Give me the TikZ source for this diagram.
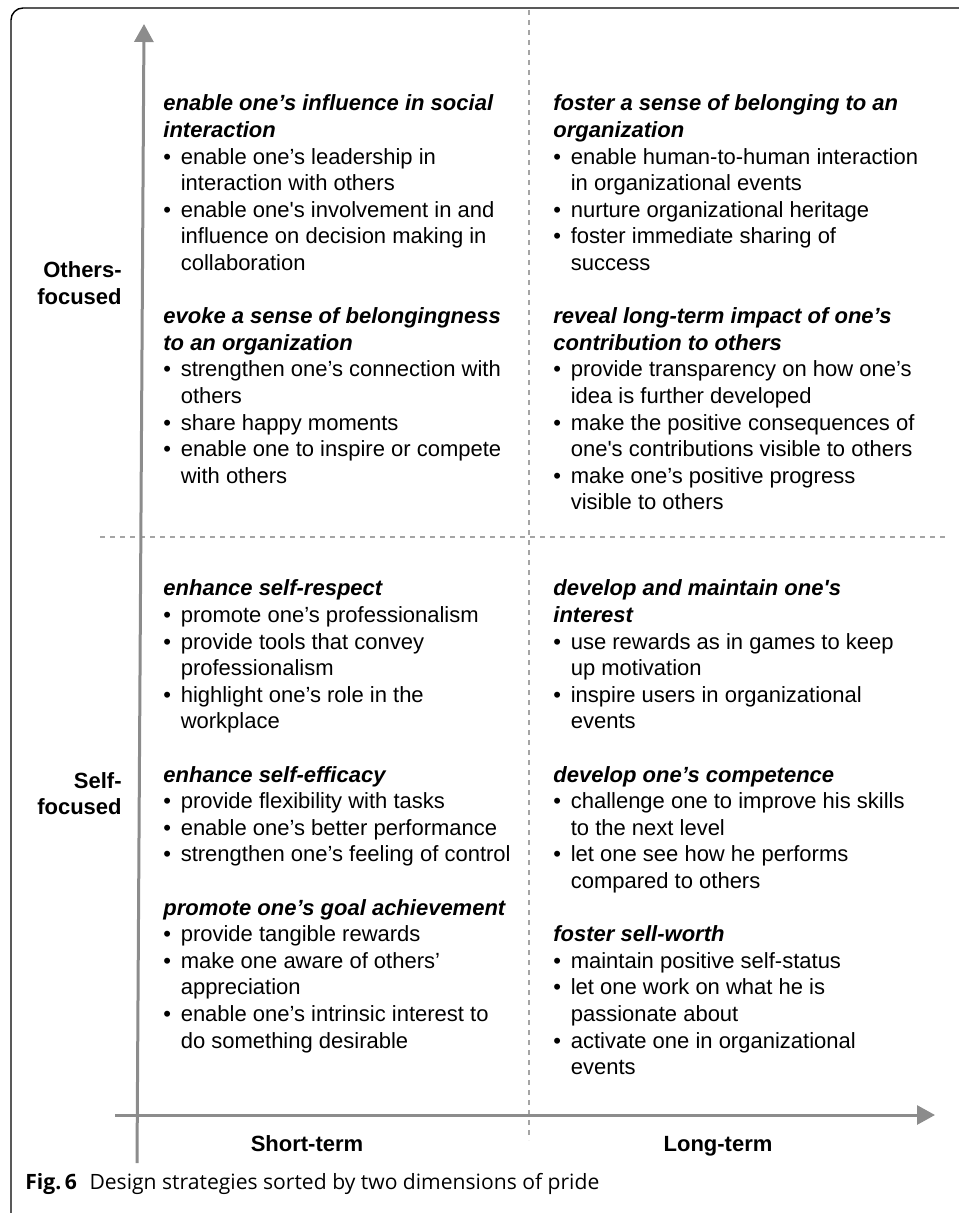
\documentclass[tikz,border=0pt]{standalone}
\usepackage{fontspec}
\setmainfont{Liberation Sans}
\newfontfamily\capfont{Open Sans}
\usetikzlibrary{arrows.meta}
\definecolor{axisgray}{RGB}{140,140,140}
\definecolor{dashgray}{RGB}{165,165,165}
\newlength\bw \setlength\bw{8.7pt}
\newcommand\myhd[1]{\par\noindent{\bfseries\itshape #1\par}}
\newcommand\mybul[1]{\par\noindent\hangindent=\bw\hangafter=1\makebox[\bw][l]{•}#1\par}
\newcommand\mygap{\vspace{13.3pt}}
\newcommand\myblock[1]{\parbox[t]{205pt}{\fontsize{11}{13.3}\selectfont\setlength\parindent{0pt}\setlength\parskip{0pt}#1}}
\begin{document}
\begin{tikzpicture}[x=0.5pt,y=-0.5pt,
  axisline/.style={draw=axisgray, line width=1.5pt, -{Triangle[length=9pt,width=9.5pt]}},
  dashline/.style={draw=dashgray, line width=0.7pt, dash pattern=on 2.6pt off 2.4pt},
  quad/.style={anchor=base west, inner sep=0pt},
  sidelabel/.style={anchor=base east, inner sep=0pt},
  axislabel/.style={anchor=base, inner sep=0pt, font=\bfseries\fontsize{11}{13.3}\selectfont}]
\useasboundingbox (0,0) rectangle (958,1213);
% frame
\draw[black, line width=0.7pt, rounded corners=6pt] (11,8) rectangle (1000,1225);
% coordinates
\coordinate (vbot) at (137,1163);
\coordinate (vtop) at (144,24);
\coordinate (hleft) at (115,1115);
\coordinate (hright) at (935,1115);
\coordinate (dvtop) at (529,10);
\coordinate (dvbot) at (529,1140);
\coordinate (dhl) at (100,537);
\coordinate (dhr) at (945,537);
% dashed dividers
\draw[dashline] (dvtop) -- (dvbot);
\draw[dashline] (dhl) -- (dhr);
% axes
\draw[axisline] (vbot) -- (vtop);
\draw[axisline] (hleft) -- (hright);
% quadrant texts
\node[quad] (tl) at (163,111) {\myblock{%
\myhd{enable one’s influence in social\\interaction}
\mybul{enable one’s leadership in\\interaction with others}
\mybul{enable one\textquotesingle s involvement in and\\influence on decision making in\\collaboration}
\mygap
\myhd{evoke a sense of belongingness\\to an organization}
\mybul{strengthen one’s connection with\\others}
\mybul{share happy moments}
\mybul{enable one to inspire or compete\\with others}}};
\node[quad] (tr) at (553,111) {\myblock{%
\myhd{foster a sense of belonging to an\\organization}
\mybul{enable human-to-human interaction\\in organizational events}
\mybul{nurture organizational heritage}
\mybul{foster immediate sharing of\\success}
\mygap
\myhd{reveal long-term impact of one’s\\contribution to others}
\mybul{provide transparency on how one’s\\idea is further developed}
\mybul{make the positive consequences of\\one\textquotesingle s contributions visible to others}
\mybul{make one’s positive progress\\visible to others}}};
\node[quad] (bl) at (163,595.8) {\myblock{%
\myhd{enhance self-respect}
\mybul{promote one’s professionalism}
\mybul{provide tools that convey\\professionalism}
\mybul{highlight one’s role in the\\workplace}
\mygap
\myhd{enhance self-efficacy}
\mybul{provide flexibility with tasks}
\mybul{enable one’s better performance}
\mybul{strengthen one’s feeling of control}
\mygap
\myhd{promote one’s goal achievement}
\mybul{provide tangible rewards}
\mybul{make one aware of others’\\appreciation}
\mybul{enable one’s intrinsic interest to\\do something desirable}}};
\node[quad] (br) at (553,595.8) {\myblock{%
\myhd{develop and maintain one\textquotesingle s\\interest}
\mybul{use rewards as in games to keep\\up motivation}
\mybul{inspire users in organizational\\events}
\mygap
\myhd{develop one’s competence}
\mybul{challenge one to improve his skills\\to the next level}
\mybul{let one see how he performs\\compared to others}
\mygap
\myhd{foster sell-worth}
\mybul{maintain positive self-status}
\mybul{let one work on what he is\\passionate about}
\mybul{activate one in organizational\\events}}};
% side labels
\node[sidelabel] (others) at (122,278) {\parbox[t]{50pt}{\raggedleft\bfseries\fontsize{11}{13.1}\selectfont Others-\\focused}};
\node[sidelabel] (self) at (122,788) {\parbox[t]{50pt}{\raggedleft\bfseries\fontsize{11}{13.1}\selectfont Self-\\focused}};
% axis labels
\node[axislabel] (short) at (307,1151) {Short-term};
\node[axislabel] (long) at (718,1151) {Long-term};
% caption
\node[anchor=base west, inner sep=0pt, font=\capfont\fontsize{10.55}{12.5}\selectfont] (cap) at (25,1189) {\textbf{Fig.\,6}\hspace{6.3pt}Design strategies sorted by two dimensions of pride};
\end{tikzpicture}
\end{document}
